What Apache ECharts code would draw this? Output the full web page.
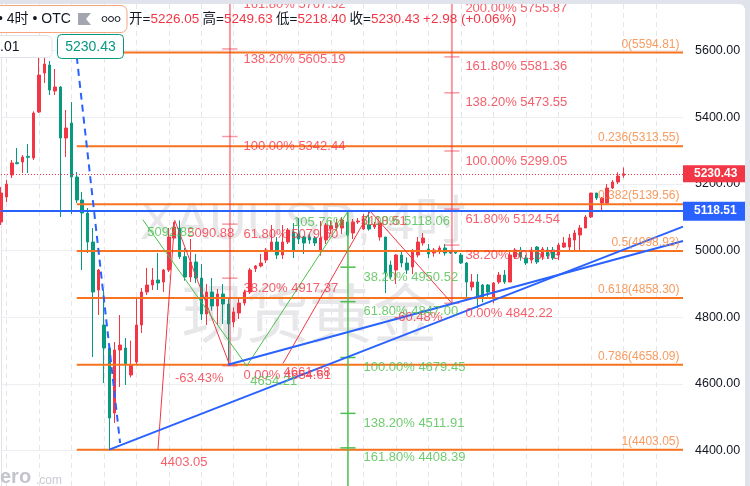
<!DOCTYPE html>
<html>
<head>
<meta charset="utf-8">
<title>XAUUSD 4时</title>
<script src="https://cdn.jsdelivr.net/npm/echarts@6.0.0/dist/echarts.min.js"></script>
<style>
  html, body { margin: 0; padding: 0; width: 750px; height: 486px; background: #e0e3eb; overflow: hidden; }
  #main { position: absolute; left: 0; top: 4px; width: 745px; height: 482px; background: #fff; border-top-right-radius: 6px; overflow: hidden; }
</style>
</head>
<body>
<div id="main"></div>
<script>
// 4小时K线: 开 / 收 / 低 / 高
const opens = [5086, 5161, 5227, 5264, 5266, 5283, 5278, 5416, 5533, 5557, 5479, 5491, 5338, 5383, 5221, 5152, 5113, 5026, 4882, 4777,
  4708, 4513, 4702, 4708, 4627, 4666, 4777, 4876, 4897, 4912, 4906, 4942, 5038, 5068, 4982, 4921, 4966, 4918, 4810, 4876,
  4834, 4870, 4840, 4786, 4813, 4843, 4876, 4946, 4954, 4972, 5002, 5026, 4987, 5026, 5056, 5050, 5041, 5041, 5038, 5000,
  5032, 5065, 5068, 5068, 5086, 5053, 5086, 5065, 5077, 5071, 5041, 5041, 4957, 4942, 4987, 4963, 4951, 4987, 5023, 5005,
  4993, 4999, 5008, 4999, 4996, 4987, 4963, 4891, 4906, 4897, 4897, 4858, 4906, 4927, 4906, 4981, 5002, 4978, 4972, 5011,
  4981, 5002, 5002, 4987, 5011, 5011, 5032, 5047, 5068, 5101, 5173, 5143, 5143, 5188, 5206, 5226.05];
const closes = [5173, 5200, 5263, 5261, 5281, 5280, 5413, 5527, 5560, 5482, 5491, 5338, 5368, 5221, 5152, 5113, 5026, 4876, 4942, 4708,
  4498, 4702, 4717, 4657, 4657, 4777, 4876, 4897, 4912, 4903, 4942, 5041, 5071, 4982, 4921, 4966, 4918, 4810, 4876, 4834,
  4870, 4840, 4780, 4816, 4843, 4876, 4942, 4954, 4963, 5002, 5026, 4987, 5026, 5062, 5002, 5035, 5023, 5032, 5023, 5038,
  5077, 5075, 5083, 5092, 5047, 5086, 5089, 5095, 5065, 5077, 5083, 4933, 4921, 4987, 4963, 4942, 4996, 5026, 5038, 4990,
  5002, 5008, 4993, 4993, 4993, 4963, 4906, 4906, 4861, 4858, 4876, 4903, 4927, 4906, 4987, 5002, 4981, 4963, 5002, 4966,
  5005, 4984, 4978, 5017, 5023, 5038, 5053, 5068, 5101, 5173, 5158, 5158, 5188, 5206, 5224, 5230.43];
const lows = [5077, 5146, 5218, 5259, 5233, 5233, 5272, 5413, 5503, 5467, 5467, 5101, 5281, 5110, 5143, 4942, 4993, 4681, 4807, 4603,
  4403.05, 4483, 4591, 4597, 4620, 4660, 4753, 4867, 4882, 4882, 4876, 4936, 5032, 4975, 4910, 4906, 4903, 4792, 4777, 4820,
  4777, 4780, 4654.61, 4770, 4795, 4835, 4870, 4936, 4950, 4963, 4996, 4975, 4975, 5020, 4978, 5020, 4990, 5020, 5014, 4985,
  5020, 5050, 5060, 5050, 5040, 5035, 5080, 5062, 5060, 5065, 5030, 4873, 4915, 4900, 4950, 4930, 4930, 4980, 5015, 4978,
  4982, 4990, 4985, 4990, 4990, 4960, 4852, 4880, 4828, 4845, 4862, 4842.22, 4900, 4900, 4906, 4975, 4970, 4957, 4962, 4960,
  4972, 4975, 4972, 4972, 5008, 5000, 5000, 4996, 5068, 5098, 5152, 5116, 5140, 5185, 5200, 5218.40];
const highs = [5191, 5212, 5272, 5308, 5287, 5320, 5418, 5590, 5594.81, 5569, 5545, 5494, 5422, 5446, 5236, 5176, 5128, 5068, 4945, 4882,
  4710, 4726, 4807, 4738, 4730, 4858, 4888, 4948, 4948, 4993, 4945, 5068, 5086, 5090.88, 5008, 5035, 4990, 4960, 4900, 4918,
  4885, 4900, 4860, 4830, 4855, 4882, 4948, 4957, 4990, 5008, 5077, 5041, 5077, 5068, 5083, 5098, 5044, 5050, 5044, 5089,
  5083, 5090, 5095, 5101, 5113, 5095, 5098, 5110, 5118.51, 5086, 5083, 5041, 4970, 4990, 5000, 4980, 5005, 5041, 5053, 5020,
  5008, 5015, 5020, 5002, 4999, 4993, 4966, 4930, 4930, 4900, 4900, 4906, 4936, 4942, 5002, 5008, 5011, 4987, 5011, 5014,
  5011, 5011, 5011, 5023, 5041, 5050, 5062, 5077, 5107, 5173, 5173, 5161, 5200, 5212, 5235, 5249.63];

const slotCount = 127;   // K线 + 右侧空白
const categories = Array.from({ length: slotCount }, (_, i) => 'k' + i);

// 纵轴: 可见范围 + 刻度
const yMin = 4294, yMax = 5740;
const yTicks = [4400, 4600, 4800, 5000, 5200, 5400, 5600];

// 斐波那契回撤 (橙)
const fibRatios = ['0', '0.236', '0.382', '0.5', '0.618', '0.786', '1'];
const fibLevels = [5594.81, 5313.55, 5139.56, 4998.93, 4858.30, 4658.09, 4403.05];
const fibFrom = 14;

// 趋势斐波那契扩展 1 (红)  A, B, C
const ext1Pts = [[29.0, 4403.05], [32.1, 5090.88], [42.3, 4654.61]];
const ext1PtLabels = ['4403.05', '5090.88', '-63.43%'];
const ext1Ratios = ['0.00%', '38.20%', '61.80%', '100.00%', '138.20%', '161.80%'];
const ext1Levels = [4654.61, 4917.37, 5079.60, 5342.44, 5605.19, 5767.52];

// 趋势斐波那契扩展 2 (红)
const ext2Pts = [[52.1, 4661.68], [68.2, 5118.51], [83.3, 4842.22]];
const ext2PtLabels = ['4661.68', '5118.51', '-60.48%'];
const ext2Ratios = ['0.00%', '38.20%', '61.80%', '100.00%', '138.20%', '161.80%', '200.00%'];
const ext2Levels = [4842.22, 5016.73, 5124.54, 5299.05, 5473.55, 5581.36, 5755.87];

// 趋势斐波那契扩展 3 (绿)  A, C, B
const ext3Pts = [[26.2, 5092.82], [45.4, 4654.21], [64.1, 5118.06]];
const ext3PtLabels = ['5092.82', '4654.21', '105.76%'];
const ext3Ratios = ['0.00%', '38.20%', '61.80%', '100.00%', '138.20%', '161.80%'];
const ext3Levels = [5118.06, 4950.52, 4847.00, 4679.45, 4511.91, 4408.39];

// 趋势线 (蓝)
const dashedLine = [[14.0, 5581], [22.0, 4423]];
const trendLineA = [[20, 4403.05], [126, 5072]];
const trendLineB = [[41.9, 4658], [126, 5029]];

const lastPrice = 5230.43;
const blueLevel = 5118.51;
const countdown = '02:32:40';
const lastChange = '+2.98 (+0.06%)';

const FONT = '"Liberation Sans", Arial, "Noto Sans CJK SC", sans-serif';
const RED = '#f23645', KGREEN = '#089981', ORANGE = '#f7731f', BLUE = '#2962ff', GREEN = '#4cbf4c';
const PINK = 'rgba(242,54,69,0.5)';
const pricePerPx = 3;

const candles = opens.map((o, i) => [o, closes[i], lows[i], highs[i]]);
const last = candles.length - 1;

const series = [];
const texts = [];

function addLine(pts, color, width, type, z) {
    series.push({
        type: 'line', xAxisIndex: 1, data: pts, symbol: 'none', silent: true, z: z || 3,
        lineStyle: { color: color, width: width, type: type || 'solid' }
    });
}
function addText(x, y, text, color, side, dx, dy, size) {
    texts.push({
        value: [x, y],
        label: { show: true, formatter: text, color: color, position: side, distance: 0, offset: [dx, dy], fontSize: size || 13 }
    });
}

// K线 + 当前价/蓝色水平线
series.push({
    type: 'candlestick', data: candles, barWidth: 3, clip: false, z: 2,
    itemStyle: { color: RED, color0: KGREEN, borderColor: RED, borderColor0: KGREEN, borderWidth: 1 },
    markLine: {
        symbol: ['none', 'none'], silent: true, animation: false,
        data: [
            { yAxis: lastPrice, lineStyle: { color: RED, width: 1, type: [1, 2] },
              label: { position: 'end', distance: 0, formatter: lastPrice.toFixed(2), color: '#fff', fontWeight: 'bold',
                       fontSize: 12, backgroundColor: RED, padding: [3, 10, 2, 11] } },
            { yAxis: lastPrice - 17.5 * pricePerPx, lineStyle: { opacity: 0 },
              label: { position: 'end', distance: 0, formatter: countdown, color: '#fde3e5', fontSize: 12,
                       backgroundColor: RED, padding: [4, 10, 3, 11] } },
            { yAxis: blueLevel, lineStyle: { color: BLUE, width: 2, type: 'solid' },
              label: { position: 'end', distance: 0, formatter: blueLevel.toFixed(2), color: '#fff', fontWeight: 'bold',
                       fontSize: 12, backgroundColor: BLUE, padding: [4, 10, 3, 11] } }
        ]
    }
});

// 斐波那契回撤
fibLevels.forEach((v, i) => {
    addLine([[fibFrom, v], [slotCount - 1, v]], ORANGE, 2);
    addText(125.44, v, fibRatios[i] + '(' + v.toFixed(2) + ')', '#f5843a', 'left', 0, -8, 12);
});

// 扩展 1
(function () {
    const vx = ext1Pts[2][0];
    addLine([ext1Pts[0], ext1Pts[1]], RED, 1);
    addLine([ext1Pts[1], ext1Pts[2]], RED, 1);
    addLine([[vx, ext1Levels[0]], [vx, yMax]], PINK, 2);
    ext1Levels.forEach((v, i) => {
        addLine([[vx - 1.45, v], [vx + 1.4, v]], PINK, 1.5);
        addText(vx, v, ext1Ratios[i] + ' ' + v.toFixed(2), RED, 'right', 13, 10);
    });
    addText(ext1Pts[0][0], ext1Pts[0][1], ext1PtLabels[0], RED, 'right', 2, 13);
    addText(ext1Pts[1][0], ext1Pts[1][1], ext1PtLabels[1], RED, 'right', 12, 13);
    addText(ext1Pts[2][0], ext1Pts[2][1], ext1PtLabels[2], RED, 'left', -6, 13);
})();

// 扩展 2
(function () {
    const vx = ext2Pts[2][0];
    addLine([ext2Pts[0], ext2Pts[1]], RED, 1);
    addLine([ext2Pts[1], ext2Pts[2]], RED, 1);
    addLine([[vx, ext2Levels[0]], [vx, yMax]], PINK, 2);
    ext2Levels.forEach((v, i) => {
        addLine([[vx - 1.4, v], [vx + 1.4, v]], PINK, 1.5);
        addText(vx, v, ext2Ratios[i] + ' ' + v.toFixed(2), RED, 'right', 13, 10);
    });
    addText(ext2Pts[0][0], ext2Pts[0][1], ext2PtLabels[0], RED, 'right', 0, 9);
    addText(ext2Pts[1][0], ext2Pts[1][1], ext2PtLabels[1], RED, 'right', -10, 10);
    addText(ext2Pts[2][0], ext2Pts[2][1], ext2PtLabels[2], RED, 'left', -9, 14);
})();

// 扩展 3 (绿)
(function () {
    const vx = ext3Pts[2][0];
    addLine([ext3Pts[0], ext3Pts[1]], GREEN, 1);
    addLine([ext3Pts[1], ext3Pts[2]], GREEN, 1);
    addLine([[vx, ext3Levels[0]], [vx, yMin]], GREEN, 1.5);
    ext3Levels.forEach((v, i) => {
        addLine([[vx - 1.4, v], [vx + 1.4, v]], GREEN, 1.5);
        addText(vx, v, ext3Ratios[i] + ' ' + v.toFixed(2), GREEN, 'right', 15, 10);
    });
    addText(ext3Pts[0][0], ext3Pts[0][1], ext3PtLabels[0], GREEN, 'right', 4, 13);
    addText(ext3Pts[1][0], ext3Pts[1][1], ext3PtLabels[1], GREEN, 'right', 3, 15);
    addText(ext3Pts[2][0], ext3Pts[2][1], ext3PtLabels[2], GREEN, 'left', -3, 11);
})();

// 蓝色趋势线
addLine(dashedLine, BLUE, 2, [7, 5]);
addLine(trendLineA, BLUE, 2);
addLine(trendLineB, BLUE, 2);

series.push({
    type: 'scatter', xAxisIndex: 1, data: texts, symbolSize: 1, silent: true, z: 5, clip: false,
    itemStyle: { color: 'rgba(0,0,0,0)' }
});

const c = candles[last];
const header = '{k|开=}{v|' + c[0].toFixed(2) + '} {k|高=}{v|' + c[3].toFixed(2) + '} {k|低=}{v|' + c[2].toFixed(2) +
    '} {k|收=}{v|' + c[1].toFixed(2) + '} {v|' + lastChange + '}';

const myChart = echarts.init(document.getElementById('main'), null, { renderer: 'canvas' });
myChart.setOption({
    animation: false,
    textStyle: { fontFamily: FONT },
    grid: { left: 1, right: 62, top: 0, bottom: 0, containLabel: false, outerBoundsMode: 'none' },
    xAxis: [
        {
            type: 'category', data: categories, boundaryGap: false,
            axisLine: { show: false }, axisTick: { show: false }, axisLabel: { show: false },
            splitLine: { show: true, interval: (i) => i % 6 === 1, lineStyle: { color: '#e4e6eb', type: [5, 4] } }
        },
        { type: 'value', min: 0, max: slotCount - 1, show: false }
    ],
    yAxis: {
        type: 'value', position: 'right', min: yMin, max: yMax,
        axisLine: { show: true, lineStyle: { color: '#e0e3eb' } },
        axisTick: { show: false, customValues: yTicks },
        axisLabel: { margin: 12, color: '#131722', fontSize: 12.5, customValues: yTicks, formatter: (v) => v.toFixed(2) },
        splitLine: { lineStyle: { color: '#eceef2' } }
    },
    series: series,
    graphic: [
        // 水印
        { type: 'text', z: 0, silent: true, x: 303, y: 221,
          style: { text: 'XAUUSD, 4时', fontSize: 52, fontFamily: FONT, fill: 'rgba(120,123,134,0.18)', align: 'center', verticalAlign: 'middle' } },
        { type: 'text', z: 0, silent: true, x: 309, y: 309,
          style: { text: '现货黄金', fontSize: 64, fontFamily: '"Noto Sans CJK SC", sans-serif', fill: 'rgba(120,123,134,0.18)', align: 'center', verticalAlign: 'middle' } },
        // 标题栏
        { type: 'rect', z: 100, shape: { x: -6, y: 1.5, width: 133, height: 27, r: 6 }, style: { fill: '#fff', stroke: '#f7a57f', lineWidth: 1 } },
        { type: 'text', z: 101, x: -2, y: 15, style: { text: '• 4时 • OTC', fontSize: 14, fontFamily: FONT, fill: '#131722', verticalAlign: 'middle' } },
        { type: 'polygon', z: 101, shape: { points: [[78, 9], [91, 9], [86, 15], [91, 21], [78, 21]] }, style: { fill: '#a3a6af' } },
        { type: 'circle', z: 101, shape: { cx: 104.5, cy: 15, r: 2.5 }, style: { fill: 'none', stroke: '#131722', lineWidth: 1 } },
        { type: 'circle', z: 101, shape: { cx: 111, cy: 15, r: 2.5 }, style: { fill: 'none', stroke: '#131722', lineWidth: 1 } },
        { type: 'circle', z: 101, shape: { cx: 117.5, cy: 15, r: 2.5 }, style: { fill: 'none', stroke: '#131722', lineWidth: 1 } },
        { type: 'text', z: 101, x: 129, y: 15,
          style: { text: header, verticalAlign: 'middle', fontFamily: FONT,
                   rich: { k: { fill: '#131722', fontSize: 13.5, fontFamily: FONT }, v: { fill: RED, fontSize: 13.5, fontFamily: FONT } } } },
        { type: 'rect', z: 100, shape: { x: -6, y: 31.5, width: 58, height: 22, r: 5 }, style: { fill: '#fff', stroke: '#e0e3eb', lineWidth: 1 } },
        { type: 'text', z: 101, x: 0, y: 43, style: { text: '.01', fontSize: 14, fontFamily: FONT, fill: '#131722', verticalAlign: 'middle' } },
        { type: 'rect', z: 100, shape: { x: 57.5, y: 30.5, width: 66, height: 24, r: 4 }, style: { fill: '#fff', stroke: KGREEN, lineWidth: 1 } },
        { type: 'text', z: 101, x: 90.5, y: 43, style: { text: lastPrice.toFixed(2), fontSize: 14, fontFamily: FONT, fill: KGREEN, align: 'center', verticalAlign: 'middle' } },
        // 底部水印
        { type: 'text', z: 1, x: 0, y: 473, style: { text: 'ero', fontSize: 20, fontWeight: 'bold', fontFamily: FONT, fill: '#c3c5cb', verticalAlign: 'middle' } },
        { type: 'text', z: 1, x: 36, y: 477, style: { text: '.com', fontSize: 12, fontFamily: FONT, fill: '#c9cbd1', verticalAlign: 'middle' } }
    ]
});
</script>
</body>
</html>
